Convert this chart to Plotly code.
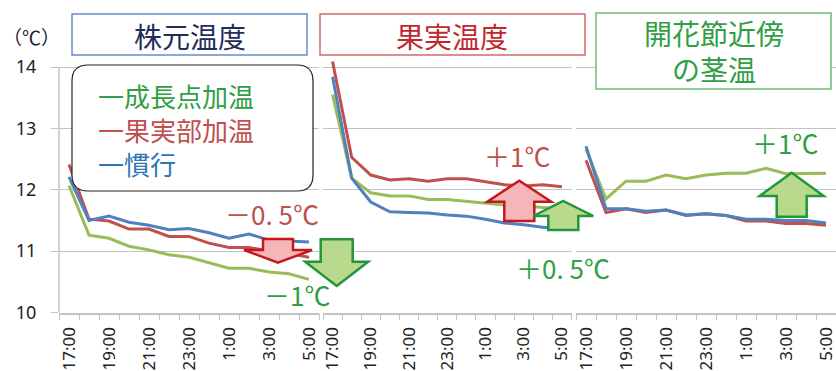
import plotly.graph_objects as go

# ---------------- data ----------------
hours = ["17:00", "18:00", "19:00", "20:00", "21:00", "22:00", "23:00",
         "0:00", "1:00", "2:00", "3:00", "4:00", "5:00"]

panel_titles = ["株元温度", "果実温度", "開花節近傍<br>の茎温"]
series_names = ["成長点加温", "果実部加温", "慣行"]

# 株元温度
base_growth = [12.07, 11.26, 11.21, 11.08, 11.02, 10.94, 10.90, 10.81, 10.72, 10.72, 10.66, 10.63, 10.54]
base_fruit = [12.41, 11.52, 11.49, 11.36, 11.36, 11.24, 11.24, 11.13, 11.06, 11.06, 11.00, 10.96, 10.90]
base_conv = [12.21, 11.50, 11.57, 11.47, 11.42, 11.35, 11.37, 11.30, 11.21, 11.28, 11.18, 11.16, 11.15]

# 果実温度
fruit_growth = [13.55, 12.19, 11.95, 11.90, 11.90, 11.84, 11.84, 11.81, 11.77, 11.75, 11.73, 11.71, 11.69]
fruit_fruit = [14.09, 12.53, 12.24, 12.16, 12.18, 12.14, 12.18, 12.18, 12.13, 12.08, 12.06, 12.08, 12.05]
fruit_conv = [13.84, 12.19, 11.80, 11.64, 11.63, 11.62, 11.59, 11.57, 11.52, 11.46, 11.43, 11.39, 11.37]

# 開花節近傍の茎温
stem_growth = [12.66, 11.85, 12.14, 12.14, 12.24, 12.18, 12.24, 12.27, 12.27, 12.35, 12.26, 12.27, 12.27]
stem_fruit = [12.48, 11.63, 11.69, 11.63, 11.67, 11.58, 11.61, 11.58, 11.49, 11.49, 11.45, 11.45, 11.42]
stem_conv = [12.71, 11.69, 11.69, 11.65, 11.67, 11.59, 11.61, 11.58, 11.52, 11.52, 11.50, 11.50, 11.46]

y_ticks = [10, 11, 12, 13, 14]

# ---------------- styling ----------------
W, H = 836, 371
C_GREEN, C_RED, C_BLUE = "#9BBB59", "#C0504D", "#4F81BD"
T_GREEN, T_RED, T_BLUE = "#2F9E44", "#C0504D", "#2E75B6"
GRID = "#C3C3C3"
FONT_CJK = "Noto Sans CJK JP"


def X(px):
    return px / W


def Y(py):
    return 1 - py / H


x = list(range(len(hours)))
panels = [
    (base_growth, base_fruit, base_conv),
    (fruit_growth, fruit_fruit, fruit_conv),
    (stem_growth, stem_fruit, stem_conv),
]
x_domains = [[X(59), X(319)], [X(323), X(571.5)], [X(576), 1.0]]
y_range = [10, 14.15]
y_domain = [Y(312.5), Y(67 - 0.15 * 61.375)]

fig = go.Figure()
for i, (g, r, b) in enumerate(panels):
    sfx = "" if i == 0 else str(i + 1)
    for vals, col, name in [(g, C_GREEN, series_names[0]), (r, C_RED, series_names[1]), (b, C_BLUE, series_names[2])]:
        fig.add_trace(go.Scatter(x=x, y=vals, mode="lines", name=name,
                                 line=dict(color=col, width=3),
                                 xaxis="x" + sfx, yaxis="y" + sfx, showlegend=False))

layout = dict(
    width=W, height=H, margin=dict(l=0, r=0, t=0, b=0),
    paper_bgcolor="white", plot_bgcolor="white", template="none",
    showlegend=False,
)
for i in range(3):
    sfx = "" if i == 0 else str(i + 1)
    layout["xaxis" + sfx] = dict(
        domain=x_domains[i], range=[-0.5, len(hours) - 0.5], anchor="y" + sfx,
        tickmode="array", tickvals=x[::2], ticktext=hours[::2], tickangle=-90,
        ticks="", showgrid=False, zeroline=False, automargin=False,
        showline=True, linecolor=GRID, linewidth=1.5,
        tickfont=dict(family="Noto Sans", size=17, color="#222222"),
        ticklabelstandoff=6, ticklabeloverflow="allow",
        minor=dict(tickmode="array", tickvals=[v - 0.5 for v in range(len(hours) + 1)],
                   ticks="outside", ticklen=6, tickcolor=GRID, tickwidth=1.2, showgrid=False),
        fixedrange=True,
    )
    layout["yaxis" + sfx] = dict(
        domain=y_domain, range=y_range, anchor="x" + sfx,
        tickmode="array", tickvals=y_ticks, ticktext=[str(v) for v in y_ticks],
        showgrid=True, gridcolor=GRID, gridwidth=1.2, zeroline=False,
        showline=False, automargin=False, fixedrange=True,
        ticks="outside" if i == 0 else "", ticklen=7, tickcolor=GRID,
        showticklabels=(i == 0),
        tickfont=dict(family="Noto Sans", size=18, color="#222222"),
        ticklabelstandoff=11,
    )
fig.update_layout(**layout)

shapes = []
annotations = []

# y axis line for first panel (from 10 to 14)
shapes.append(dict(type="line", xref="paper", yref="y", x0=X(59), x1=X(59), y0=10, y1=14,
                   line=dict(color=GRID, width=1.5), layer="below"))

# title boxes
title_boxes = [
    ((72, 14, 307, 55), "#6A8BC9", "#1F2D5C", 36),
    ((320, 14, 585, 55), "#D46A6E", "#C0282D", 36),
    ((596, 13, 831, 89), "#6DBA77", "#2F9E44", 51),
]
for (x0, y0, x1, y1), bcol, tcol, ty in title_boxes:
    shapes.append(dict(type="rect", xref="paper", yref="paper",
                       x0=X(x0), x1=X(x1), y0=Y(y0), y1=Y(y1),
                       line=dict(color=bcol, width=1.5), fillcolor="white", layer="above"))
for k, ((x0, y0, x1, y1), bcol, tcol, ty) in enumerate(title_boxes):
    annotations.append(dict(xref="paper", yref="paper", x=X((x0 + x1) / 2), y=Y(ty),
                            text=panel_titles[k], showarrow=False, xanchor="center", yanchor="middle",
                            font=dict(family=FONT_CJK, size=28, color=tcol)))

# legend box (rounded)
lx0, ly0, lx1, ly1, rr = 72, 65, 313, 191, 16
path = (f"M {X(lx0 + rr)},{Y(ly0)} L {X(lx1 - rr)},{Y(ly0)} Q {X(lx1)},{Y(ly0)} {X(lx1)},{Y(ly0 + rr)} "
        f"L {X(lx1)},{Y(ly1 - rr)} Q {X(lx1)},{Y(ly1)} {X(lx1 - rr)},{Y(ly1)} "
        f"L {X(lx0 + rr)},{Y(ly1)} Q {X(lx0)},{Y(ly1)} {X(lx0)},{Y(ly1 - rr)} "
        f"L {X(lx0)},{Y(ly0 + rr)} Q {X(lx0)},{Y(ly0)} {X(lx0 + rr)},{Y(ly0)} Z")
shapes.append(dict(type="path", xref="paper", yref="paper", path=path,
                   line=dict(color="#222222", width=1.2), fillcolor="white", layer="above"))
legend_text = "<br>".join(
    f"<span style='color:{col}'>一{name}</span>"
    for name, col in zip(series_names, [T_GREEN, T_RED, T_BLUE])
)
annotations.append(dict(xref="paper", yref="paper", x=X(96), y=Y(129.5), text=legend_text,
                        showarrow=False, xanchor="left", yanchor="middle", align="left",
                        font=dict(family=FONT_CJK, size=26, color=T_GREEN)))


# block arrows
def arrow(tx, ty, wy, hw, sw, by):
    pts = [(tx, ty), (tx + hw, wy), (tx + sw, wy), (tx + sw, by),
           (tx - sw, by), (tx - sw, wy), (tx - hw, wy)]
    return "M " + " L ".join(f"{X(a)},{Y(b)}" for a, b in pts) + " Z"


RED_EDGE, RED_FILL = "#C8161D", "#F4B6B8"
GRN_EDGE, GRN_FILL = "#22963A", "#B9D98C"
arrows = [
    ((278, 262.7, 250, 34, 15, 239), RED_EDGE, RED_FILL),
    ((336.7, 286, 261.7, 31.5, 16, 239.3), GRN_EDGE, GRN_FILL),
    ((519.3, 180.7, 201.7, 32, 15, 221), RED_EDGE, RED_FILL),
    ((563.3, 201, 216, 30, 15, 230), GRN_EDGE, GRN_FILL),
    ((791.7, 172.7, 196, 32, 15, 216.7), GRN_EDGE, GRN_FILL),
]
for args, ec, fc in arrows:
    shapes.append(dict(type="path", xref="paper", yref="paper", path=arrow(*args),
                       line=dict(color=ec, width=2.5), fillcolor=fc, layer="above"))

# difference labels
labels = [
    ("－0. 5℃", T_RED, 272, 214),
    ("－1℃", T_GREEN, 297, 294),
    ("＋1℃", T_RED, 517, 155),
    ("＋0. 5℃", T_GREEN, 563, 267),
    ("＋1℃", T_GREEN, 785, 142),
]
for txt, col, px, py in labels:
    annotations.append(dict(xref="paper", yref="paper", x=X(px), y=Y(py), text=txt,
                            showarrow=False, xanchor="center", yanchor="middle",
                            font=dict(family=FONT_CJK, size=26, color=col)))

# unit label
annotations.append(dict(xref="paper", yref="paper", x=X(31), y=Y(36), text="（℃）",
                        showarrow=False, xanchor="center", yanchor="middle",
                        font=dict(family=FONT_CJK, size=19, color="#222222")))

fig.update_layout(shapes=shapes, annotations=annotations)
fig.write_html("out.html", config={"displayModeBar": False})
